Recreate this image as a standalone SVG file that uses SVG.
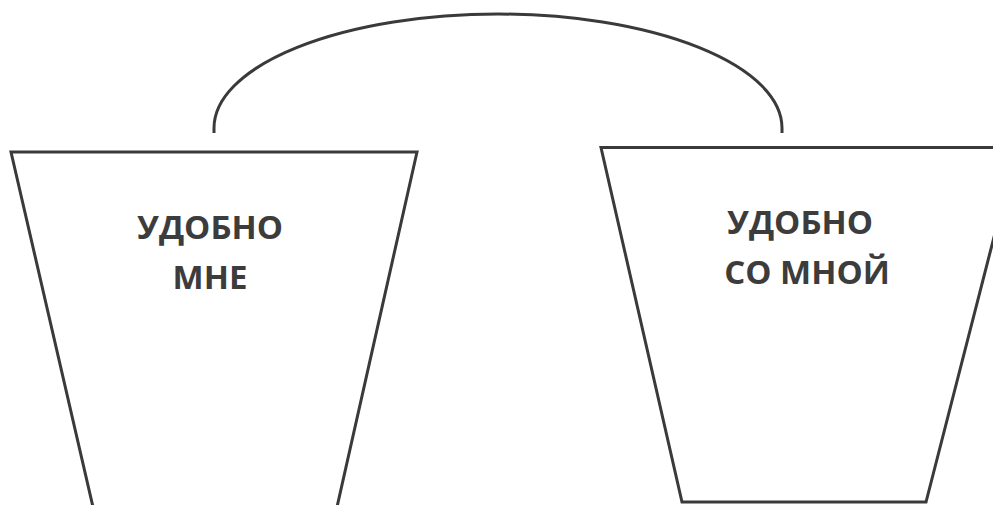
<svg xmlns="http://www.w3.org/2000/svg" width="993" height="505" viewBox="0 0 993 505">
<style>
.shape{fill:none;stroke:#3a3a3a;stroke-width:3;stroke-linejoin:miter}
.lbl{font-family:"Open Sans","Noto Sans",sans-serif;font-weight:bold;font-size:33px;fill:#3c3c3c;text-anchor:middle}
</style>
<rect width="993" height="505" fill="#ffffff"/>
<g id="connectors">
<path class="shape" stroke-width="2.5" d="M214,133 L214,128 A284,114 0 0 1 782,128 L782,133"/>
</g>
<g id="node-left">
<path class="shape" d="M93,507 L11,152 L417,152 L337,507"/>
<text class="lbl" x="210" y="239">УДОБНО</text>
<text class="lbl" x="210" y="289">МНЕ</text>
</g>
<g id="node-right">
<path class="shape" d="M1020,147.5 L601,147.5 L682,502 L926,502 L1017,147.5"/>
<text class="lbl" x="800" y="234">УДОБНО</text>
<text class="lbl" x="807" y="284">СО МНОЙ</text>
</g>
</svg>
